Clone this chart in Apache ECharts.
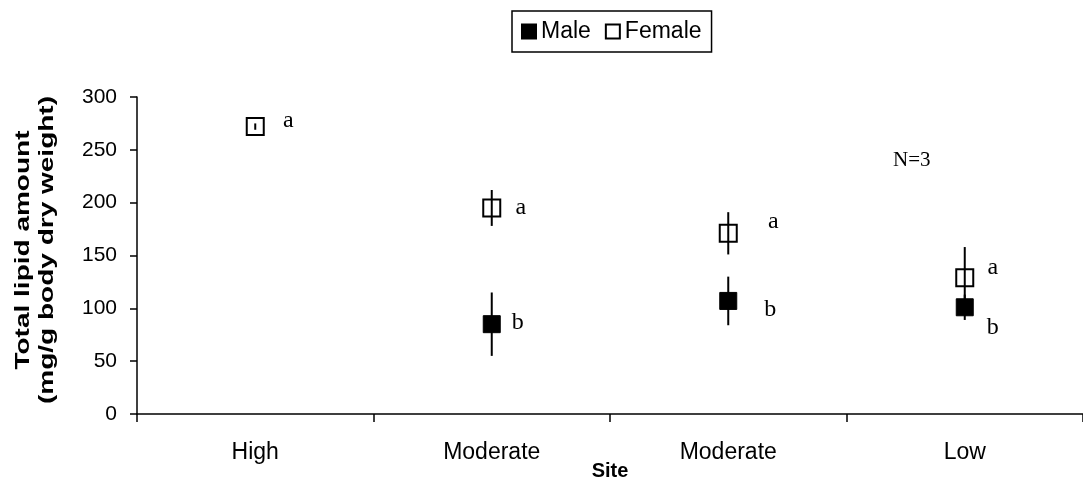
<!DOCTYPE html>
<html>
<head>
<meta charset="utf-8">
<script src="https://cdn.jsdelivr.net/npm/echarts@6/dist/echarts.min.js"></script>
<style>
  html, body { margin: 0; padding: 0; background: #fff; }
  #chart { width: 1083px; height: 501px; }
</style>
</head>
<body>
<div id="chart"></div>
<script>
// Sites sampled
const sites = ['High', 'Moderate', 'Moderate', 'Low'];

// Mean total lipid (mg/g body dry weight) and standard deviation
const femaleMean = [272, 195, 171, 129];
const femaleSD   = [3, 17, 20, 29];
const maleMean   = [null, 85, 107, 101];
const maleSD     = [null, 30, 23, 12];

// Significance letters
const femaleLetters = ['a', 'a', 'a', 'a'];
const maleLetters   = [null, 'b', 'b', 'b'];

// Y axis ticks
const yMin = 0, yMax = 300, yStep = 50;

// Letter placement relative to each marker (px)
const femaleLetterOffset = [[33, -6], [29, 0], [45, -12], [28, -10]];
const maleLetterOffset   = [null, [26, -1], [42, 9], [28, 20]];

const serif = '"Liberation Serif", "DejaVu Serif", serif';
const sans = '"Liberation Sans", Arial, sans-serif';

function markerData(means, letters, offsets) {
  return means.map((v, i) => {
    if (v === null) return { value: [i, '-'] };
    return {
      value: [i, v],
      label: { formatter: letters[i], offset: offsets[i] }
    };
  });
}

function errorData(means, sds) {
  const out = [];
  means.forEach((v, i) => {
    if (v !== null) out.push([i, v - sds[i], v + sds[i]]);
  });
  return out;
}

const letterLabel = {
  show: true,
  position: 'inside',
  color: '#000',
  fontFamily: serif,
  fontSize: 24
};

const errorSeries = (name, data) => ({
  name: name + ' SD',
  type: 'custom',
  z: 5,
  silent: true,
  data: data,
  renderItem: (params, api) => {
    const lo = api.coord([api.value(0), api.value(1)]);
    const hi = api.coord([api.value(0), api.value(2)]);
    return {
      type: 'line',
      shape: { x1: lo[0], y1: lo[1], x2: hi[0], y2: hi[1] },
      style: { stroke: '#000', lineWidth: 2 }
    };
  }
});

const chart = echarts.init(document.getElementById('chart'));
chart.setOption({
  animation: false,
  backgroundColor: '#fff',
  grid: { left: 137, width: 957, top: 97, bottom: 87 },
  legend: {
    data: ['Male', 'Female'],
    left: 512,
    top: 11,
    padding: [9, 10, 9, 9],
    borderColor: '#000',
    borderWidth: 1.5,
    itemWidth: 14,
    itemHeight: 14,
    itemGap: 14,
    textStyle: { fontFamily: sans, fontSize: 23, color: '#000' },
    selectedMode: false
  },
  xAxis: {
    type: 'category',
    data: sites,
    name: 'Site',
    nameLocation: 'middle',
    nameGap: 47,
    nameMoveOverlap: false,
    nameTextStyle: { fontFamily: sans, fontSize: 20, fontWeight: 'bold', color: '#000' },
    axisLine: { lineStyle: { color: '#000', width: 1.5 } },
    axisTick: { show: true, length: 8, lineStyle: { color: '#000', width: 1.5 } },
    axisLabel: { fontFamily: sans, fontSize: 23, color: '#000', margin: 27 },
    splitLine: { show: false }
  },
  yAxis: {
    type: 'value',
    min: yMin,
    max: yMax,
    interval: yStep,
    axisLine: { show: true, lineStyle: { color: '#000', width: 1.5 } },
    axisTick: { show: true, length: 7, lineStyle: { color: '#000', width: 1.5 } },
    axisLabel: { fontFamily: sans, fontSize: 21, color: '#000', margin: 20 },
    splitLine: { show: false }
  },
  graphic: [
    {
      // Y axis title, read bottom to top
      type: 'group',
      x: 35,
      y: 250,
      rotation: Math.PI / 2,
      scaleX: 1.4,
      children: [
        {
          type: 'text',
          y: -12,
          style: {
            text: 'Total lipid amount',
            fontFamily: sans, fontSize: 20, fontWeight: 'bold', fill: '#000',
            align: 'center', verticalAlign: 'middle'
          }
        },
        {
          type: 'text',
          y: 12,
          style: {
            text: '(mg/g body dry weight)',
            fontFamily: sans, fontSize: 20, fontWeight: 'bold', fill: '#000',
            align: 'center', verticalAlign: 'middle'
          }
        }
      ]
    },
    {
      type: 'text',
      x: 893,
      y: 160,
      style: {
        text: 'N=3', fontFamily: serif, fontSize: 21, fill: '#000',
        verticalAlign: 'middle'
      }
    }
  ],
  series: [
    {
      name: 'Male',
      type: 'scatter',
      symbol: 'rect',
      symbolSize: 17,
      z: 3,
      itemStyle: { color: '#000', borderColor: '#000', borderWidth: 1, opacity: 1 },
      label: letterLabel,
      data: markerData(maleMean, maleLetters, maleLetterOffset)
    },
    {
      name: 'Female',
      type: 'scatter',
      symbol: 'rect',
      symbolSize: 17,
      z: 4,
      itemStyle: { color: '#fff', borderColor: '#000', borderWidth: 2, opacity: 1 },
      label: letterLabel,
      data: markerData(femaleMean, femaleLetters, femaleLetterOffset)
    },
    errorSeries('Female', errorData(femaleMean, femaleSD)),
    errorSeries('Male', errorData(maleMean, maleSD))
  ]
});
</script>
</body>
</html>
